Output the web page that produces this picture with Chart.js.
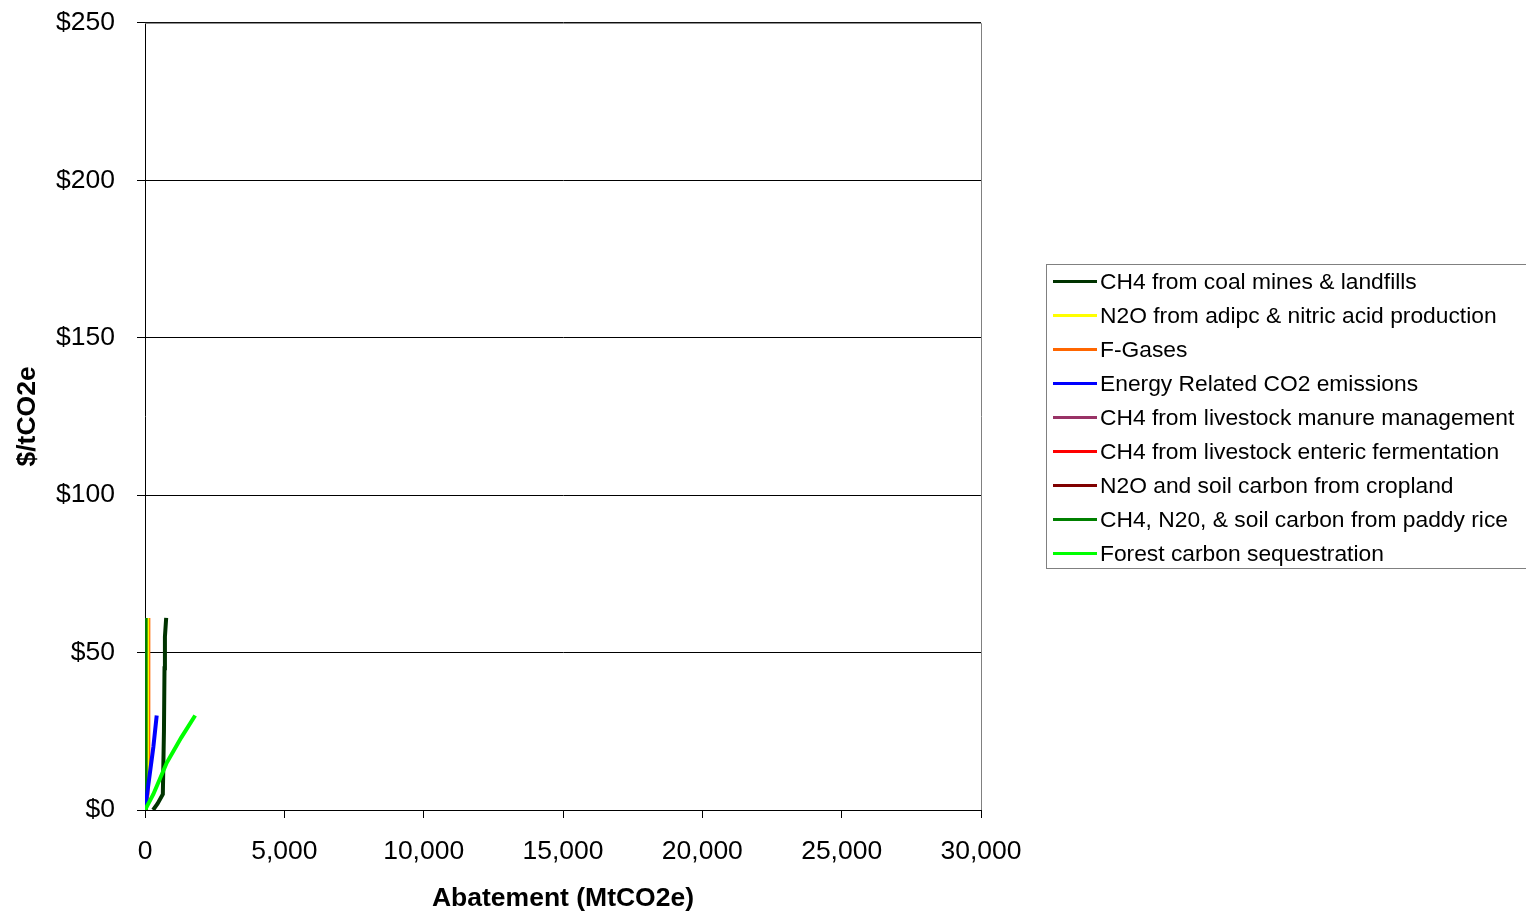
<!DOCTYPE html>
<html>
<head>
<meta charset="utf-8">
<script src="https://cdn.jsdelivr.net/npm/chart.js@4"></script>
<style>
  html, body { margin: 0; padding: 0; background: #fff; overflow: hidden; }
  #wrap { position: relative; width: 1526px; height: 913px; overflow: hidden; }
  #c { position: absolute; left: 0; top: -15px; }
  #legend {
    position: absolute; left: 1046px; top: 264px; width: 484px; height: 305px;
    border: 1px solid #808080; box-sizing: border-box;
    font-family: "Liberation Sans", Arial, sans-serif; font-size: 22.8px; color: #000;
    padding-top: 0px;
  }
  .row { height: 33.9px; display: flex; align-items: center; white-space: nowrap; }
  .swatch { width: 44px; height: 3px; margin-left: 6px; margin-right: 3px; }
</style>
</head>
<body>
<div id="wrap">
  <canvas id="c" width="1526" height="928"></canvas>
  <div id="legend"></div>
</div>
<script>
const seriesNames = [
  "CH4 from coal mines & landfills",
  "N2O from adipc & nitric acid production",
  "F-Gases",
  "Energy Related CO2 emissions",
  "CH4 from livestock manure management",
  "CH4 from livestock enteric fermentation",
  "N2O and soil carbon from cropland",
  "CH4, N20, & soil carbon from paddy rice",
  "Forest carbon sequestration"
];
const seriesColors = ["#003300", "#FFFF00", "#FF6600", "#0000FF", "#993366", "#FF0000", "#800000", "#008000", "#00FF00"];

// [abatement MtCO2e, $/tCO2e]
const coalMines = [[290, 0], [450, 2], [640, 5], [680, 25], [700, 45], [715, 55], [760, 61]];
const adipic = [[0, 0], [50, 5], [70, 20], [80, 61]];
const fGases = [[0, 0], [90, 5], [110, 15], [120, 61]];
const energyCO2 = [[0, 0], [150, 10], [300, 20], [420, 30]];
const manure = [[0, 0], [10, 10], [15, 61]];
const enteric = [[0, 0], [15, 10], [20, 61]];
const cropland = [[0, 0], [10, 30], [15, 61]];
const paddyRice = [[0, 0], [15, 10], [30, 61]];
const forest = [[0, 0], [300, 5], [780, 15], [1300, 23], [1800, 30]];

const seriesData = [coalMines, adipic, fGases, energyCO2, manure, enteric, cropland, paddyRice, forest];
const drawOrder = [2, 5, 6, 1, 8, 7, 6, 3, 0];

const xTicks = [0, 5000, 10000, 15000, 20000, 25000, 30000];
const yTicks = [0, 50, 100, 150, 200, 250];

const font = "'Liberation Sans', Arial, sans-serif";

const frame = {
  id: 'frame',
  afterDatasetsDraw(chart) {
    const a = chart.chartArea, c = chart.ctx;
    c.save();
    c.strokeStyle = '#808080';
    c.lineWidth = 1;
    c.beginPath();
    c.moveTo(a.left, a.top + 0.5);
    c.lineTo(a.right + 0.5, a.top + 0.5);
    c.lineTo(a.right + 0.5, a.bottom);
    c.stroke();
    c.restore();
  }
};

new Chart(document.getElementById('c'), {
  type: 'scatter',
  data: {
    datasets: seriesData.map((d, i) => ({
      label: seriesNames[i],
      data: d.map(p => ({ x: p[0], y: p[1] })),
      borderColor: seriesColors[i],
      backgroundColor: seriesColors[i],
      showLine: true,
      borderWidth: 4,
      pointRadius: 0,
      tension: 0,
      order: drawOrder[i]
    }))
  },
  options: {
    responsive: false,
    animation: false,
    layout: { padding: { top: 8, right: 545, left: 0, bottom: 0 } },
    plugins: { legend: { display: false }, tooltip: { enabled: false } },
    scales: {
      x: {
        type: 'linear', min: 0, max: 30000,
        afterBuildTicks: s => { s.ticks = xTicks.map(v => ({ value: v })); },
        afterFit: s => { s.height = 103; },
        grid: { drawOnChartArea: false, drawTicks: true, tickLength: 8, color: '#000' },
        border: { color: '#000', width: 1 },
        ticks: {
          color: '#000', font: { family: font, size: 26.5 }, padding: 18, maxRotation: 0,
          callback: v => v.toLocaleString('en-US')
        },
        title: { display: true, text: 'Abatement (MtCO2e)', color: '#000', font: { family: font, size: 26.5, weight: 'bold' }, padding: { top: 4, bottom: -2 } }
      },
      y: {
        type: 'linear', min: 0, max: 250,
        afterBuildTicks: s => { s.ticks = yTicks.map(v => ({ value: v })); },
        afterFit: s => { s.width = 145; },
        grid: { color: '#000', tickLength: 8, lineWidth: 1 },
        border: { color: '#000', width: 1 },
        ticks: { color: '#000', font: { family: font, size: 26.5 }, padding: 22, callback: v => '$' + v },
        title: { display: true, text: '$/tCO2e', color: '#000', font: { family: font, size: 26.5, weight: 'bold' }, padding: { top: 12, bottom: 0 } }
      }
    }
  },
  plugins: [frame]
});

const legend = document.getElementById('legend');
seriesNames.forEach((n, i) => {
  const row = document.createElement('div');
  row.className = 'row';
  const sw = document.createElement('span');
  sw.className = 'swatch';
  sw.style.background = seriesColors[i];
  const t = document.createElement('span');
  t.textContent = n;
  row.appendChild(sw);
  row.appendChild(t);
  legend.appendChild(row);
});
</script>
</body>
</html>
